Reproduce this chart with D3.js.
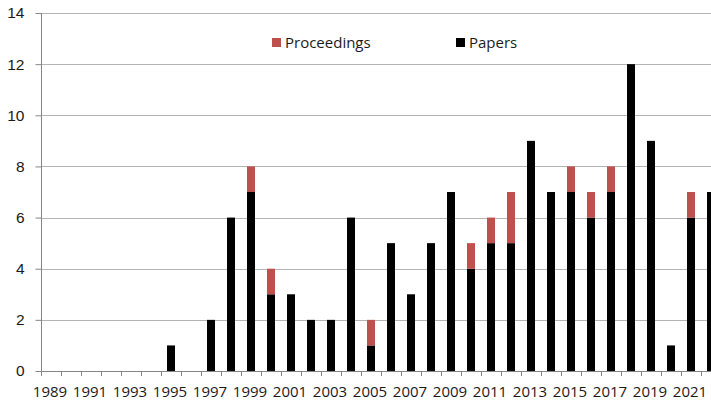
<!DOCTYPE html>
<html>
<head>
<meta charset="utf-8">
<script src="https://cdn.jsdelivr.net/npm/d3@7"></script>
<style>
  html, body { margin: 0; padding: 0; background: #fff; }
  svg { display: block; font-family: "Open Sans", sans-serif; }
  .tick-label { fill: #1a1a1a; font-size: 15.5px; }
  .year-label { fill: #1a1a1a; font-size: 15px; }
  .legend-label { fill: #1a1a1a; font-size: 15px; }
</style>
</head>
<body>
<div class="chart-container"></div>
<script>
const years = d3.range(1989, 2023).map(String);
const papers = [0, 0, 0, 0, 0, 0, 1, 0, 2, 6, 7, 3, 3, 2, 2, 6, 1, 5, 3, 5, 7, 4, 5, 5, 9, 7, 7, 6, 7, 12, 9, 1, 6, 7];
const proceedings = [0, 0, 0, 0, 0, 0, 0, 0, 0, 0, 1, 1, 0, 0, 0, 0, 1, 0, 0, 0, 0, 1, 1, 2, 0, 0, 1, 1, 1, 0, 0, 0, 1, 0];
const yTicks = [0, 2, 4, 6, 8, 10, 12, 14];
const seriesNames = ["Proceedings", "Papers"];
const seriesColors = { Papers: "#000000", Proceedings: "#c0504d" };

class PublicationChart {
  constructor() {
    this.width = 711;
    this.height = 403;
    this.margin = { top: 13, right: -10, bottom: 32, left: 41 };
    this.data = years.map((y, i) => {
      return { year: y, Papers: papers[i], Proceedings: proceedings[i] };
    });
    this.setupSvg();
  }

  setupSvg() {
    this.svg = d3.select(".chart-container")
      .append("svg")
      .attr("width", this.width)
      .attr("height", this.height);

    const x0 = this.margin.left;
    const x1 = this.width - this.margin.right;
    const y0 = this.height - this.margin.bottom;

    // category slots (used for the boundary ticks and labels)
    this.xCat = d3.scaleBand()
      .domain(years)
      .range([x0, x1])
      .padding(0);

    this.xScale = d3.scaleBand()
      .domain(years)
      .range([x0, x1])
      .paddingInner(0.6)
      .paddingOuter(0.3);

    this.yScale = d3.scaleLinear()
      .domain([0, 14])
      .range([y0, this.margin.top]);

    // gridlines
    this.svg.append("g")
      .selectAll("line")
      .data(yTicks.filter(d => d > 0))
      .enter().append("line")
      .attr("x1", x0)
      .attr("x2", this.width)
      .attr("y1", d => Math.round(this.yScale(d)) + 0.5)
      .attr("y2", d => Math.round(this.yScale(d)) + 0.5)
      .attr("stroke", "#b4b4b4")
      .attr("stroke-width", 1);

    // stacked bars
    const stack = d3.stack().keys(["Papers", "Proceedings"]);
    this.svg.append("g")
      .selectAll("g")
      .data(stack(this.data))
      .enter().append("g")
      .attr("fill", d => seriesColors[d.key])
      .selectAll("rect")
      .data(d => d)
      .enter().append("rect")
      .attr("x", d => this.xScale(d.data.year))
      .attr("y", d => this.yScale(d[1]))
      .attr("width", this.xScale.bandwidth())
      .attr("height", d => this.yScale(d[0]) - this.yScale(d[1]));

    // y axis
    const yAxis = d3.axisLeft(this.yScale)
      .tickValues(yTicks)
      .tickSize(6)
      .tickPadding(11)
      .tickFormat(d3.format("d"));
    const yAxisGroup = this.svg.append("g")
      .attr("transform", `translate(${x0 + 0.5}, 0)`)
      .call(yAxis);
    yAxisGroup.select(".domain").attr("stroke", "#868686").attr("d", `M0,${this.margin.top}V${y0}`);
    yAxisGroup.selectAll(".tick line").attr("stroke", "#868686");
    yAxisGroup.selectAll(".tick text")
      .attr("class", "tick-label");

    // x axis line
    this.svg.append("line")
      .attr("x1", x0)
      .attr("x2", this.width)
      .attr("y1", Math.round(y0) + 0.5)
      .attr("y2", Math.round(y0) + 0.5)
      .attr("stroke", "#868686");

    // boundary ticks between categories
    this.svg.append("g")
      .selectAll("line")
      .data(years)
      .enter().append("line")
      .attr("x1", d => Math.round(this.xCat(d)) + 0.5)
      .attr("x2", d => Math.round(this.xCat(d)) + 0.5)
      .attr("y1", y0)
      .attr("y2", y0 + 5)
      .attr("stroke", "#868686");

    // year labels, every second year
    this.svg.append("g")
      .selectAll("text")
      .data(years.filter((d, i) => i % 2 === 0))
      .enter().append("text")
      .attr("class", "year-label")
      .attr("x", d => this.xCat(d) + this.xCat.bandwidth() / 2 - 1)
      .attr("y", y0 + 26)
      .attr("text-anchor", "middle")
      .text(d => d);

    // legend
    const legendX = [272, 456];
    const legend = this.svg.append("g")
      .selectAll("g")
      .data(seriesNames)
      .enter().append("g")
      .attr("transform", (d, i) => `translate(${legendX[i]}, 38)`);
    legend.append("rect")
      .attr("width", 9)
      .attr("height", 9)
      .attr("fill", d => seriesColors[d]);
    legend.append("text")
      .attr("class", "legend-label")
      .attr("x", 13)
      .attr("y", 10)
      .text(d => d);
  }
}

new PublicationChart();
</script>
</body>
</html>
